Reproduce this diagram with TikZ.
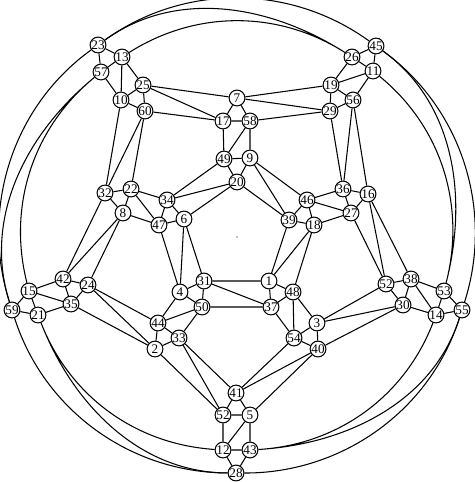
\documentclass[tikz,border=0pt]{standalone}
\usepackage{fontspec}
\setmainfont{Liberation Serif}

\begin{document}
\begin{tikzpicture}[x=0.02cm,y=0.02cm,line width=0.6pt,
  every node/.style={draw,shape=circle,fill=white,inner sep=0pt,minimum size=9pt,font=\fontsize{7.5}{7.5}\selectfont},
  rim/.style 2 args={out=#1,in=#2,looseness=0.94}]
  \useasboundingbox (0,0) rectangle (474,482);
  % outer clusters
  \path (98,437) node (v23) {23} (122,425) node (v13) {13} (101,410) node (v57) {57}
  (121,382) node (v10) {10} (143,397) node (v25) {25} (145,371) node (v60) {60};
  \path (376,436) node (v45) {45} (352,425) node (v26) {26} (373,411) node (v11) {11}
  (331,397) node (v19) {19} (353,382) node (v56) {56} (330,371) node (v29) {29};
  \path (88,197) node (v24) {24} (63,203) node (v42) {42} (71,178) node (v35) {35}
  (29,191) node (v15) {15} (38,167) node (v21) {21} (12,172) node (v59) {59};
  \path (386,198) node (v52) {52} (411,203) node (v38) {38} (403,177) node (v30) {30}
  (436,167) node (v14) {14} (444,191) node (v53) {53} (462,172) node (v55) {55};
  \path (236,89) node (v41) {41} (223,67) node (v52b) {52} (250,67) node (v5) {5}
  (223,32) node (v12) {12} (250,32) node (v43) {43} (236,9) node (v28) {28};
  % inner clusters
  \path (237,384) node (v7) {7} (223,361) node (v17) {17} (250,361) node (v58) {58}
  (224,323) node (v49) {49} (250,324) node (v9) {9} (237,300) node (v20) {20};
  \path (105,289) node (v32) {32} (131,293) node (v22) {22} (123,269) node (v8) {8}
  (167,282) node (v34) {34} (159,257) node (v47) {47} (184,263) node (v6) {6};
  \path (343,293) node (v36) {36} (368,288) node (v16) {16} (307,282) node (v46) {46}
  (351,269) node (v27) {27} (289,262) node (v39) {39} (314,257) node (v18) {18};
  \path (204,201) node (v31) {31} (180,190) node (v4) {4} (202,175) node (v50) {50}
  (158,159) node (v44) {44} (179,144) node (v33) {33} (155,133) node (v2) {2};
  \path (269,201) node (v1) {1} (293,190) node (v48) {48} (271,175) node (v37) {37}
  (317,159) node (v3) {3} (294,144) node (v54) {54} (318,133) node (v40) {40};
  \fill (237,245) circle (0.6);
  % triangles inside each cluster
  \draw (v23) -- (v57) -- (v13) -- (v23) (v57) -- (v10) -- (v13) -- (v25) -- (v10) -- (v60) -- (v25);
  \draw (v45) -- (v26) -- (v11) -- (v45) (v26) -- (v19) -- (v11) -- (v56) -- (v19) -- (v29) -- (v56);
  \draw (v24) -- (v42) -- (v35) -- (v24) (v42) -- (v15) -- (v35) -- (v21) -- (v15) -- (v59) -- (v21);
  \draw (v52) -- (v30) -- (v38) -- (v52) (v30) -- (v14) -- (v38) -- (v53) -- (v14) -- (v55) -- (v53);
  \draw (v41) -- (v52b) -- (v5) -- (v41) (v52b) -- (v12) -- (v5) -- (v43) -- (v12) -- (v28) -- (v43);
  \draw (v7) -- (v17) -- (v58) -- (v7) (v17) -- (v49) -- (v58) -- (v9) -- (v49) -- (v20) -- (v9);
  \draw (v32) -- (v8) -- (v22) -- (v32) (v8) -- (v47) -- (v22) -- (v34) -- (v47) -- (v6) -- (v34);
  \draw (v16) -- (v36) -- (v27) -- (v16) (v36) -- (v46) -- (v27) -- (v18) -- (v46) -- (v39) -- (v18);
  \draw (v31) -- (v4) -- (v50) -- (v31) (v4) -- (v44) -- (v50) -- (v33) -- (v44) -- (v2) -- (v33);
  \draw (v1) -- (v37) -- (v48) -- (v1) (v37) -- (v54) -- (v48) -- (v3) -- (v54) -- (v40) -- (v3);
  % links between clusters
  \draw (v10) -- (v32) -- (v60) -- (v22) (v7) -- (v25) -- (v17) -- (v60);
  \draw (v19) -- (v7) -- (v29) -- (v58) (v34) -- (v49) (v34) -- (v20) -- (v6);
  \draw (v46) -- (v9) -- (v39) -- (v20) (v36) -- (v56) -- (v16) (v29) -- (v36);
  \draw (v32) -- (v42) -- (v8) -- (v24) (v47) -- (v4) -- (v6) -- (v31);
  \draw (v38) -- (v16) -- (v52) -- (v27) (v39) -- (v1) -- (v18) -- (v48);
  \draw (v44) -- (v24) -- (v2) -- (v35) (v52) -- (v3) -- (v30) -- (v40);
  \draw (v1) -- (v31) -- (v37) -- (v50) (v41) -- (v33) -- (v52b) -- (v2);
  \draw (v54) -- (v41) -- (v40) -- (v5);
  % outer ring
  \draw (v23) to[rim={35.8}{144.1}] (v45) to[rim={-35.9}{72.3}] (v55)
  to[rim={-107.7}{-0.2}] (v28) to[rim={-180.2}{-72.3}] (v59) to[rim={107.7}{215.8}] (v23);
  \draw (v23) to[rim={35.8}{147.6}] (v26) (v13) to[rim={32.4}{147.6}] (v26);
  \draw (v45) to[rim={-35.9}{75.6}] (v53) (v11) to[rim={-39.2}{75.6}] (v53);
  \draw (v55) to[rim={-107.7}{3.5}] (v43) (v14) to[rim={-111.2}{3.5}] (v43);
  \draw (v28) to[rim={-180.2}{-68.8}] (v21) (v12) to[rim={-183.8}{-68.8}] (v21);
  \draw (v59) to[rim={107.7}{219.3}] (v57) (v15) to[rim={104.3}{219.3}] (v57);
\end{tikzpicture}
\end{document}
